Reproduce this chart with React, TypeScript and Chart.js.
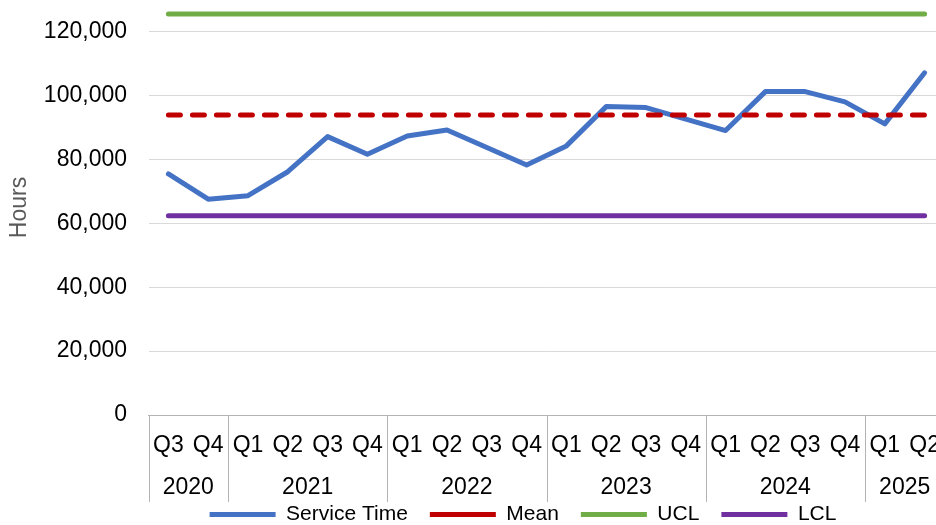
import React, { useEffect, useRef } from 'react';
import { Chart, registerables } from 'chart.js';

Chart.register(...registerables);

// ---- data ----
const QUARTER_LABELS = [
  'Q3', 'Q4',
  'Q1', 'Q2', 'Q3', 'Q4',
  'Q1', 'Q2', 'Q3', 'Q4',
  'Q1', 'Q2', 'Q3', 'Q4',
  'Q1', 'Q2', 'Q3', 'Q4',
  'Q1', 'Q2',
];
const YEARS = ['2020', '2021', '2022', '2023', '2024', '2025'];
const QUARTERS_PER_YEAR = [2, 4, 4, 4, 4, 2];

const SERVICE_TIME = [
  75500, 67600,
  68700, 76200, 87200, 81700,
  87400, 89300, 83800, 78300,
  84300, 96600, 96300, 92700,
  89100, 101300, 101300, 98100,
  91200, 107200,
];
const MEAN_VALUE = 94000;
const UCL_VALUE = 125600;
const LCL_VALUE = 62400;

const Y_MIN = 0;
const Y_MAX = 130000;
const Y_TICKS = [0, 20000, 40000, 60000, 80000, 100000, 120000];

// ---- styles ----
const FONT = "'Liberation Sans', Arial, sans-serif";
const AXIS_COLOR = '#b3b3b3';
const GRID_COLOR = '#d9d9d9';
const W = 1046;
const H = 535;

const yearAxisPlugin = {
  id: 'yearAxis',
  afterDraw(chart: any) {
    const x = chart.scales.x;
    const ctx = chart.ctx as CanvasRenderingContext2D;
    const half = (x.getPixelForValue(1) - x.getPixelForValue(0)) / 2;
    const top = chart.chartArea.bottom;
    const bottom = top + 87;
    ctx.save();
    ctx.strokeStyle = AXIS_COLOR;
    ctx.lineWidth = 1;
    ctx.fillStyle = '#000';
    ctx.font = `23px ${FONT}`;
    ctx.textAlign = 'center';
    ctx.textBaseline = 'middle';
    const sep = (px: number) => {
      const p = Math.round(px) + 0.5;
      ctx.beginPath();
      ctx.moveTo(p, top);
      ctx.lineTo(p, bottom);
      ctx.stroke();
    };
    let idx = 0;
    let end = 0;
    YEARS.forEach((yr, g) => {
      const n = QUARTERS_PER_YEAR[g];
      const start = x.getPixelForValue(idx) - half;
      end = x.getPixelForValue(idx + n - 1) + half;
      sep(start);
      ctx.fillText(yr, (start + end) / 2, top + 72.5);
      idx += n;
    });
    sep(end);
    ctx.restore();
  },
};

export default function App() {
  const ref = useRef<HTMLCanvasElement | null>(null);

  useEffect(() => {
    document.body.style.overflow = 'hidden';
    document.documentElement.style.overflow = 'hidden';
    const canvas = ref.current;
    if (!canvas) return;
    const lineCommon = {
      borderWidth: 5,
      borderCapStyle: 'round' as const,
      borderJoinStyle: 'round' as const,
      pointRadius: 0,
      pointHoverRadius: 0,
      tension: 0,
      fill: false,
      yAxisID: 'y',
    };
    const chart = new Chart(canvas, {
      type: 'line',
      data: {
        labels: QUARTER_LABELS,
        datasets: [
          {
            ...lineCommon,
            label: 'Service Time',
            data: SERVICE_TIME,
            borderColor: '#4472C4',
            backgroundColor: '#4472C4',
            order: 1,
          },
          {
            ...lineCommon,
            label: 'Mean',
            data: QUARTER_LABELS.map(() => MEAN_VALUE),
            borderColor: '#C00000',
            backgroundColor: '#C00000',
            borderDash: [12, 12],
            order: 0,
          },
          {
            ...lineCommon,
            label: 'UCL',
            data: QUARTER_LABELS.map(() => UCL_VALUE),
            borderColor: '#70AD47',
            backgroundColor: '#70AD47',
            order: 2,
          },
          {
            ...lineCommon,
            label: 'LCL',
            data: QUARTER_LABELS.map(() => LCL_VALUE),
            borderColor: '#7030A0',
            backgroundColor: '#7030A0',
            order: 3,
          },
        ],
      },
      options: {
        responsive: false,
        animation: false,
        layout: { padding: 0 },
        events: [],
        plugins: {
          legend: {
            position: 'bottom',
            labels: {
              usePointStyle: true,
              pointStyle: 'line',
              pointStyleWidth: 66,
              padding: 22,
              color: '#000',
              font: { family: FONT, size: 21 },
              sort: (a: any, b: any) => a.datasetIndex - b.datasetIndex,
            },
          },
          tooltip: { enabled: false },
        },
        scales: {
          x: {
            type: 'category',
            offset: true,
            grid: { display: false },
            border: { display: true, color: AXIS_COLOR, width: 1 },
            ticks: {
              color: '#000',
              font: { family: FONT, size: 23 },
              padding: 9,
              maxRotation: 0,
              minRotation: 0,
              autoSkip: false,
            },
            afterFit: (s: any) => {
              s.height = 67;
              s.paddingLeft = 0;
              s.paddingRight = 0;
            },
          },
          y: {
            type: 'linear',
            position: 'left',
            min: Y_MIN,
            max: Y_MAX,
            ticks: {
              padding: 21.5,
              color: '#000',
              font: { family: FONT, size: 23 },
              autoSkip: false,
              callback: (v: any) => Number(v).toLocaleString('en-US'),
            },
            grid: { color: GRID_COLOR, drawTicks: false, lineWidth: 1 },
            border: { display: false },
            title: {
              display: true,
              text: 'Hours',
              color: '#595959',
              font: { family: FONT, size: 23 },
              padding: { top: 6, bottom: 0 },
            },
            afterBuildTicks: (s: any) => {
              s.ticks = Y_TICKS.map((v) => ({ value: v }));
            },
            afterFit: (s: any) => {
              s.width = 148.5;
              s.paddingTop = 0;
              s.paddingBottom = 0;
            },
          },
          yPad: {
            type: 'linear',
            position: 'right',
            display: true,
            ticks: { display: false },
            grid: { display: false },
            border: { display: false },
            afterFit: (s: any) => {
              s.width = 101.5;
              s.paddingTop = 0;
              s.paddingBottom = 0;
            },
          },
        },
      } as any,
      plugins: [yearAxisPlugin],
    });
    return () => chart.destroy();
  }, []);

  return (
    <div style={{ position: 'fixed', left: 0, top: 0, width: W, height: H }}>
      <canvas ref={ref} width={W} height={H} style={{ display: 'block' }} />
    </div>
  );
}
